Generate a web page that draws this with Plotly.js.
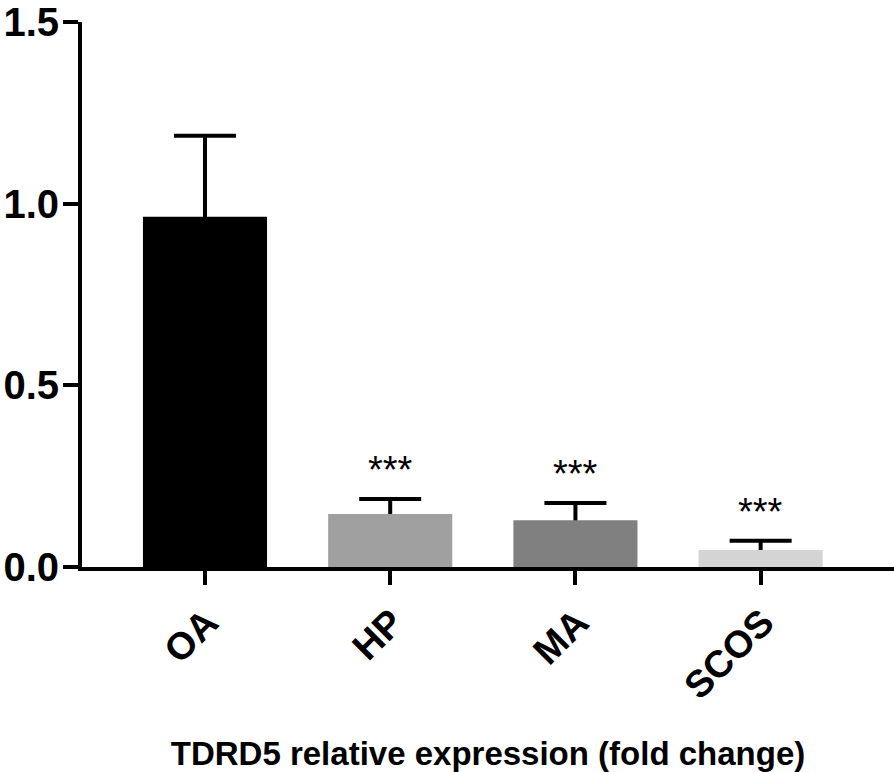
<!DOCTYPE html>
<html>
<head>
<meta charset="utf-8">
<script src="https://cdn.plot.ly/plotly-3.0.1.min.js"></script>
<style>
  html, body { margin: 0; padding: 0; background: #fff; }
  #graf { width: 894px; height: 772px; }
</style>
</head>
<body>
<div id="graf"></div>
<script>
// groups and their mean fold change, with upward SEM
var grupos = ["OA", "HP", "MA", "SCOS"];
var valores = [0.964, 0.146, 0.129, 0.047];
var errores = [0.223, 0.041, 0.047, 0.025];
var colores = ["#000000", "#a0a0a0", "#808080", "#d4d4d4"];
var estrellas = ["", "***", "***", "***"];

function graficos() {
    var espacio = document.getElementById("graf");
    var fuente = 'Liberation Sans, Arial, sans-serif';

    // error bars sit on an invisible trace underneath, the bars hide the lower half
    var bigotes = {
        x: grupos,
        y: valores,
        type: 'bar',
        width: 0.67,
        marker: { color: 'rgba(0,0,0,0)' },
        error_y: {
            type: 'data',
            array: errores,
            color: '#000',
            thickness: 4,
            width: 31
        },
        hoverinfo: 'none'
    };

    var barras = {
        x: grupos,
        y: valores,
        type: 'bar',
        width: 0.67,
        marker: { color: colores, line: { width: 0 } },
        hoverinfo: 'none'
    };

    var notas = [];
    grupos.forEach(function (g, i) {
        if (!estrellas[i]) return;
        notas.push({
            x: g,
            y: valores[i] + errores[i],
            yref: 'y',
            text: estrellas[i],
            showarrow: false,
            yanchor: 'bottom',
            yshift: 6,
            font: { family: fuente, size: 38, color: '#000' }
        });
    });

    var layout = {
        width: 894,
        height: 772,
        margin: { l: 82, r: 0, t: 22, b: 205 },
        paper_bgcolor: '#fff',
        plot_bgcolor: '#fff',
        showlegend: false,
        barmode: 'overlay',
        font: { family: fuente, color: '#000' },
        xaxis: {
            type: 'category',
            range: [-0.664, 3.72],
            showline: true,
            linecolor: '#000',
            linewidth: 4,
            ticks: 'outside',
            ticklen: 14,
            tickwidth: 4,
            tickcolor: '#000',
            tickangle: -45,
            ticklabelshift: 2,
            ticklabelstandoff: 0,
            tickfont: { size: 38, family: fuente, weight: 'bold' },
            showgrid: false,
            zeroline: false,
            title: {
                text: 'TDRD5 relative expression (fold change)',
                font: { size: 33, family: fuente, weight: 'bold' },
                standoff: 44
            },
            fixedrange: true
        },
        yaxis: {
            range: [0, 1.5],
            tickvals: [0, 0.5, 1.0, 1.5],
            ticktext: ['0.0', '0.5', '1.0', '1.5'],
            showline: true,
            linecolor: '#000',
            linewidth: 4,
            ticks: 'outside',
            ticklen: 15,
            tickwidth: 4,
            tickcolor: '#000',
            ticklabelstandoff: -4,
            tickfont: { size: 40, family: fuente, weight: 'bold' },
            showgrid: false,
            zeroline: false,
            fixedrange: true
        },
        annotations: notas
    };

    Plotly.newPlot(espacio, [bigotes, barras], layout, { staticPlot: true });
}

graficos();
</script>
</body>
</html>
